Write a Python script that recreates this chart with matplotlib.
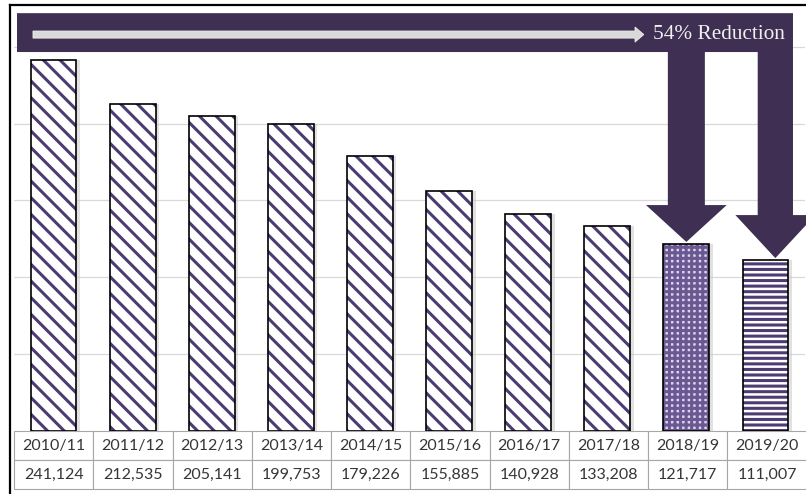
import matplotlib
matplotlib.use("Agg")
import matplotlib.pyplot as plt
from matplotlib.patches import Polygon
from matplotlib.lines import Line2D

# ---------------- data ----------------
periods = ["2010/11", "2011/12", "2012/13", "2013/14", "2014/15",
           "2015/16", "2016/17", "2017/18", "2018/19", "2019/20"]
counts = [241124, 212535, 205141, 199753, 179226,
          155885, 140928, 133208, 121717, 111007]
reduction_label = "54% Reduction"

# ---------------- style ----------------
plt.rcParams['hatch.linewidth'] = 2.2
purple = '#4d3c74'
banner = '#3f2f52'

W, H = 806, 494
fig = plt.figure(figsize=(W / 100, H / 100), dpi=100)
ax = fig.add_axes([14 / W, 63 / H, 791 / W, 418 / H])
ax.set_xlim(-0.5, len(periods) - 0.5)
ax.set_ylim(0, 272000)
ax.set_yticks(range(50000, 250001, 50000))
ax.grid(axis='y', color='#d9d9d9', lw=0.9)
ax.set_axisbelow(True)
for s in ax.spines.values():
    s.set_visible(False)
ax.tick_params(left=False, bottom=False, labelleft=False, labelbottom=False)

x = list(range(len(periods)))
bw = 0.58
# soft shadow
ax.bar([i + 0.045 for i in x], counts, width=bw, color='#c4c4c4', alpha=0.5,
       lw=0, zorder=1.5)
hatches = ['\\\\'] * 8 + ['+++', '---']
faces = ['white'] * 8 + ['#ddd4ec', 'white']
hatch_cols = [purple] * 8 + ['#6a5892', purple]
bars = ax.bar(x, counts, width=bw, color=faces, lw=0, zorder=2)
for b, h, hc in zip(bars, hatches, hatch_cols):
    b.set_edgecolor(hc)
    b.set_linewidth(0)
    b.set_hatch(h)
ax.bar(x, counts, width=bw, fill=False, edgecolor='black', lw=1.2, zorder=3)

# ---------------- banner with arrows ----------------
top_y = 271900
band_bot = 246600
left_x, right_x = -0.462, 9.348

a1_cx, a1_shw, a1_hhw, a1_len = 8.0, 0.234, 0.51, 24000
a1_tip = counts[8] + 1300
a1_head_top = a1_tip + a1_len

a2_cx = 9.125
a2_shw = right_x - a2_cx
a2_tip = counts[9] + 1500
a2_head_top = a2_tip + 28000

pts = [(left_x, top_y), (right_x, top_y), (right_x, a2_head_top),
       (a2_cx + 0.505, a2_head_top), (a2_cx, a2_tip), (a2_cx - 0.505, a2_head_top),
       (a2_cx - a2_shw, a2_head_top), (a2_cx - a2_shw, band_bot),
       (a1_cx + a1_shw, band_bot), (a1_cx + a1_shw, a1_head_top),
       (a1_cx + a1_hhw, a1_head_top), (a1_cx, a1_tip),
       (a1_cx - a1_hhw, a1_head_top), (a1_cx - a1_shw, a1_head_top),
       (a1_cx - a1_shw, band_bot), (left_x, band_bot)]
ax.add_patch(Polygon(pts, closed=True, facecolor=banner, edgecolor='none',
                     zorder=5, clip_on=False))

# light horizontal arrow inside banner
yc, th, hh = 257970, 2300, 4900
x0, xh, xt = -0.26, 7.351, 7.462
light = [(x0, yc - th), (xh, yc - th), (xh, yc - hh), (xt, yc),
         (xh, yc + hh), (xh, yc + th), (x0, yc + th)]
ax.add_patch(Polygon(light, closed=True, facecolor='#d9d9d9', edgecolor='#efefef',
                     lw=0.6, zorder=6, clip_on=False))
ax.text(7.58, 258300, reduction_label, ha='left', va='center',
        family='Liberation Serif', fontsize=15.3, color='#f0f0f0', zorder=7)

# ---------------- data table ----------------
tbl = ax.table(cellText=[periods, [f"{v:,}" for v in counts]],
               cellLoc='center', bbox=[0, -58 / 418, 1.002, 58 / 418])
tbl.auto_set_font_size(False)
for cell in tbl.get_celld().values():
    cell.set_edgecolor('#a6a6a6')
    cell.set_linewidth(0.8)
    t = cell.get_text()
    t.set_fontsize(11.5)
    t.set_family('Lato')
    t.set_color('#363636')

# ---------------- frame border ----------------
fig.add_artist(Line2D([10 / W, 10 / W], [0, 1 - 5 / H], color='black', lw=1.6))
fig.add_artist(Line2D([10 / W, 1], [1 - 5 / H, 1 - 5 / H], color='black', lw=1.6))

fig.savefig('out.png', dpi=100)
